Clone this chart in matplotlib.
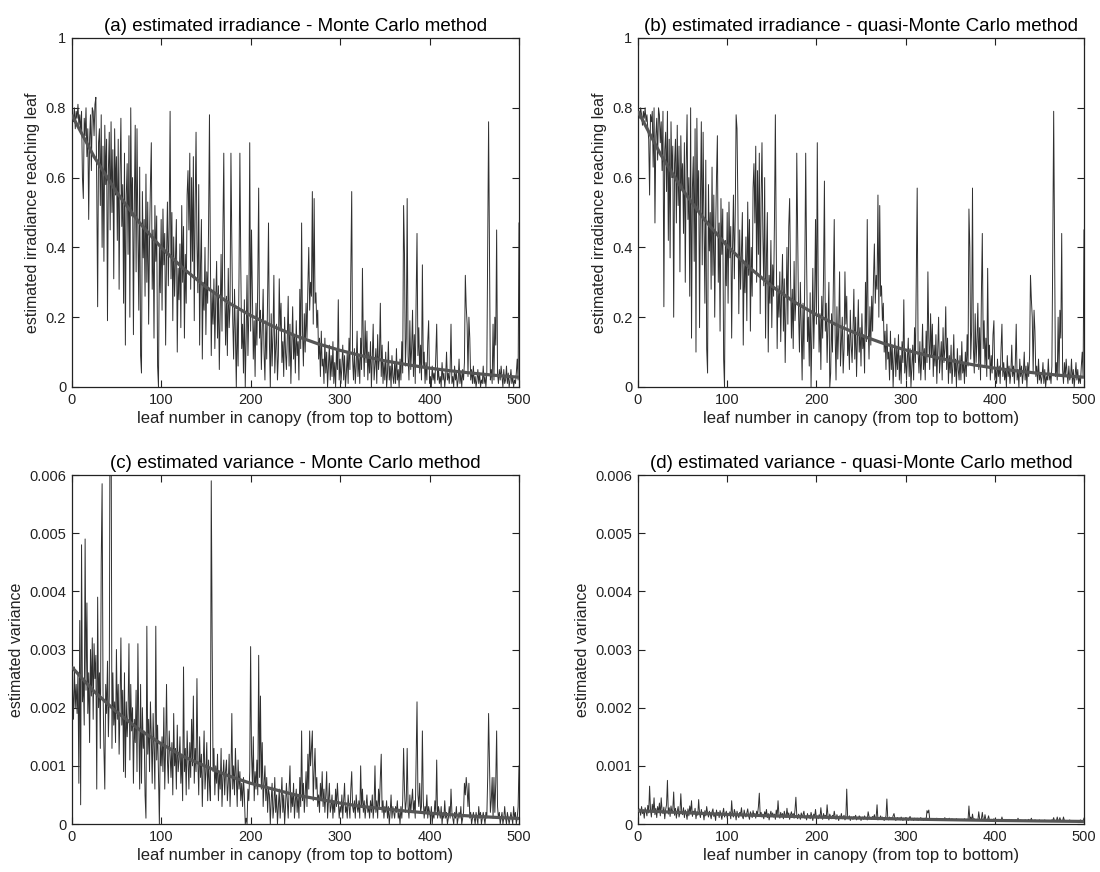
import numpy as np
import matplotlib
matplotlib.use("Agg")
import matplotlib.pyplot as plt

plt.rcParams['font.family'] = ['Liberation Sans', 'DejaVu Sans']

# Leaf index in the canopy (top to bottom)
leaves = np.arange(1, 501)

# (a) Monte Carlo irradiance estimate, in percent of incident light
irr_mc_pct = [
    78, 76, 80, 74, 79, 77, 81, 75, 78, 73,
    79, 60, 54, 77, 72, 80, 66, 74, 48, 71,
    78, 62, 80, 79, 72, 81, 83, 57, 23, 70,
    74, 52, 78, 40, 69, 36, 75, 58, 71, 19,
    62, 73, 45, 76, 50, 68, 31, 74, 55, 66,
    42, 71, 28, 61, 77, 46, 58, 24, 67, 12,
    55, 64, 38, 72, 20, 80, 49, 60, 15, 52,
    75, 33, 74, 44, 22, 63, 9, 4, 56, 37,
    48, 26, 61, 30, 53, 18, 42, 58, 70, 28,
    45, 14, 52, 36, 49, 6, 0, 40, 27, 48,
    22, 51, 35, 44, 12, 38, 53, 29, 47, 79,
    31, 50, 19, 43, 26, 37, 48, 10, 34, 25,
    41, 17, 52, 30, 46, 14, 38, 24, 55, 62,
    45, 67, 28, 60, 36, 66, 19, 52, 73, 41,
    27, 58, 12, 35, 48, 8, 30, 22, 40, 15,
    33, 24, 46, 78, 38, 9, 27, 18, 31, 11,
    25, 36, 14, 29, 5, 21, 38, 16, 44, 67,
    30, 12, 26, 9, 34, 17, 23, 67, 41, 19,
    8, 28, 15, 0, 22, 6, 31, 67, 35, 11,
    18, 4, 25, 0, 14, 32, 9, 21, 70, 16,
    45, 27, 8, 19, 3, 24, 12, 30, 57, 14,
    22, 5, 17, 28, 10, 2, 19, 8, 26, 47,
    13, 0, 21, 6, 15, 32, 4, 11, 18, 2,
    9, 31, 16, 24, 7, 13, 3, 20, 10, 5,
    14, 26, 6, 18, 1, 12, 23, 8, 15, 4,
    19, 9, 13, 2, 28, 11, 47, 16, 6, 21,
    10, 24, 14, 29, 40, 22, 30, 26, 56, 18,
    54, 24, 27, 17, 22, 8, 14, 3, 16, 6,
    8, 1, 14, 4, 10, 0, 6, 12, 2, 9,
    3, 13, 1, 7, 0, 11, 5, 25, 2, 8,
    1, 6, 12, 2, 9, 0, 4, 10, 1, 14,
    5, 33, 56, 8, 2, 11, 1, 6, 16, 3,
    9, 1, 14, 5, 34, 12, 3, 19, 7, 16,
    2, 10, 4, 13, 0, 8, 18, 2, 6, 11,
    1, 15, 5, 9, 24, 3, 12, 1, 7, 2,
    10, 0, 4, 13, 2, 6, 0, 9, 3, 1,
    7, 1, 11, 2, 5, 0, 8, 2, 13, 4,
    52, 38, 6, 14, 54, 9, 2, 19, 5, 11,
    22, 3, 15, 1, 25, 44, 9, 17, 4, 12,
    2, 35, 6, 10, 1, 7, 2, 13, 19, 1,
    3, 0, 6, 2, 4, 1, 9, 18, 2, 5,
    1, 3, 0, 7, 2, 4, 0, 3, 10, 2,
    4, 1, 5, 18, 1, 3, 0, 6, 2, 4,
    0, 2, 8, 1, 4, 0, 5, 2, 7, 32,
    23, 18, 3, 20, 14, 2, 5, 1, 6, 1,
    3, 0, 2, 5, 1, 4, 0, 2, 1, 6,
    1, 3, 0, 4, 38, 76, 40, 2, 5, 1,
    18, 2, 20, 12, 45, 4, 1, 5, 2, 6,
    3, 0, 5, 1, 2, 6, 1, 4, 0, 2,
    5, 1, 3, 0, 2, 1, 4, 8, 2, 47,
]

# (b) quasi-Monte Carlo irradiance estimate, in percent
irr_qmc_pct = [
    79, 77, 80, 78, 75, 79, 77, 80, 76, 78,
    74, 71, 55, 78, 76, 79, 63, 80, 47, 72,
    77, 65, 80, 78, 70, 76, 62, 79, 23, 68,
    73, 56, 79, 42, 71, 37, 76, 60, 69, 20,
    64, 71, 47, 75, 52, 69, 33, 72, 57, 64,
    44, 70, 30, 63, 78, 48, 60, 26, 80, 14,
    57, 66, 36, 74, 10, 77, 51, 62, 17, 54,
    76, 35, 73, 46, 24, 65, 11, 4, 58, 39,
    50, 28, 63, 32, 55, 20, 44, 60, 72, 30,
    47, 16, 54, 38, 51, 8, 0, 42, 29, 50,
    24, 53, 37, 46, 14, 40, 55, 31, 49, 78,
    74, 52, 21, 45, 28, 39, 50, 12, 36, 27,
    43, 19, 53, 32, 48, 16, 40, 26, 57, 64,
    47, 69, 30, 62, 38, 67, 21, 54, 70, 43,
    29, 60, 14, 37, 50, 10, 32, 24, 42, 17,
    35, 26, 48, 78, 40, 11, 29, 20, 33, 13,
    27, 38, 16, 31, 7, 23, 40, 18, 46, 54,
    32, 14, 28, 11, 36, 19, 25, 67, 43, 21,
    10, 30, 17, 2, 24, 8, 33, 67, 37, 13,
    20, 6, 27, 0, 16, 34, 11, 23, 48, 18,
    70, 29, 10, 21, 5, 26, 14, 32, 59, 16,
    24, 7, 19, 30, 0, 4, 21, 10, 28, 48,
    15, 2, 23, 8, 17, 33, 6, 13, 20, 4,
    11, 33, 18, 26, 9, 15, 5, 22, 12, 7,
    16, 28, 8, 20, 3, 14, 25, 10, 17, 6,
    21, 11, 15, 4, 30, 13, 48, 18, 8, 23,
    12, 26, 16, 31, 41, 24, 32, 28, 55, 20,
    52, 26, 29, 19, 24, 10, 16, 5, 18, 8,
    10, 2, 16, 5, 12, 0, 8, 14, 3, 11,
    5, 15, 2, 9, 1, 13, 7, 25, 4, 10,
    2, 8, 14, 3, 11, 0, 6, 12, 2, 17,
    7, 32, 57, 10, 4, 13, 2, 8, 18, 5,
    11, 2, 16, 7, 33, 14, 5, 21, 9, 18,
    3, 12, 6, 15, 1, 10, 20, 4, 8, 13,
    2, 17, 7, 11, 23, 5, 14, 1, 9, 4,
    12, 1, 6, 15, 3, 8, 0, 11, 5, 2,
    9, 2, 13, 4, 7, 1, 10, 3, 15, 6,
    51, 40, 8, 16, 57, 11, 4, 21, 7, 13,
    24, 5, 17, 2, 27, 44, 11, 19, 6, 14,
    3, 34, 8, 12, 2, 9, 4, 15, 19, 2,
    5, 1, 8, 3, 6, 1, 11, 18, 3, 7,
    2, 5, 0, 9, 3, 6, 1, 4, 12, 3,
    6, 1, 7, 18, 2, 5, 0, 8, 3, 6,
    1, 4, 10, 2, 6, 0, 7, 3, 9, 32,
    25, 20, 4, 22, 16, 3, 6, 1, 8, 2,
    4, 1, 3, 7, 1, 5, 0, 3, 2, 8,
    2, 4, 1, 6, 40, 79, 42, 3, 7, 2,
    20, 3, 22, 14, 44, 5, 1, 7, 3, 8,
    4, 1, 6, 2, 3, 8, 1, 5, 0, 3,
    7, 2, 5, 1, 3, 1, 6, 10, 3, 45,
]

# (c) Monte Carlo variance estimate, in units of 1e-5
var_mc_e5 = [
    230, 180, 270, 200, 240, 190, 260, 70, 350, 33,
    480, 210, 250, 170, 490, 230, 380, 190, 260, 140,
    300, 220, 320, 180, 310, 250, 290, 60, 390, 200,
    260, 130, 450, 585, 230, 130, 60, 240, 190, 280,
    150, 220, 800, 750, 130, 260, 170, 210, 140, 300,
    180, 240, 120, 200, 320, 170, 230, 90, 260, 80,
    210, 150, 190, 310, 110, 240, 160, 200, 70, 180,
    140, 230, 90, 310, 170, 60, 240, 70, 200, 130,
    160, 50, 10, 340, 120, 180, 90, 210, 150, 70,
    190, 130, 60, 340, 110, 170, 80, 0, 140, 100,
    150, 90, 200, 60, 130, 240, 110, 70, 160, 120,
    80, 140, 50, 190, 100, 130, 60, 170, 90, 110,
    150, 70, 120, 40, 270, 90, 130, 50, 160, 110,
    60, 140, 80, 180, 100, 220, 70, 130, 90, 250,
    110, 50, 150, 80, 120, 30, 100, 160, 60, 90,
    140, 40, 110, 70, 40, 590, 320, 90, 130, 50,
    100, 70, 120, 40, 90, 60, 130, 30, 80, 110,
    50, 90, 110, 40, 70, 120, 30, 80, 190, 60,
    100, 50, 130, 80, 30, 110, 60, 90, 40, 70,
    30, 80, 50, 0, 10, 0, 60, 40, 90, 305,
    120, 70, 150, 40, 90, 60, 110, 50, 290, 80,
    220, 60, 140, 30, 70, 100, 40, 80, 20, 60,
    50, 0, 40, 70, 10, 30, 80, 20, 50, 0,
    30, 60, 10, 40, 80, 20, 50, 0, 30, 70,
    40, 10, 60, 100, 20, 50, 30, 70, 10, 40,
    60, 20, 50, 10, 80, 30, 160, 40, 70, 20,
    50, 90, 30, 120, 60, 160, 100, 130, 160, 40,
    90, 130, 60, 80, 30, 50, 20, 70, 40, 90,
    30, 60, 20, 50, 90, 10, 40, 70, 20, 30,
    50, 10, 40, 20, 60, 30, 70, 40, 10, 30,
    20, 50, 10, 40, 70, 20, 30, 10, 50, 30,
    10, 60, 90, 30, 20, 40, 10, 50, 30, 20,
    40, 10, 100, 30, 60, 20, 40, 10, 30, 50,
    20, 30, 10, 40, 20, 50, 10, 30, 100, 20,
    40, 10, 60, 30, 80, 120, 20, 40, 10, 30,
    20, 40, 10, 30, 0, 20, 50, 10, 30, 20,
    10, 30, 20, 40, 10, 20, 0, 30, 10, 40,
    130, 60, 20, 40, 130, 30, 10, 50, 20, 40,
    60, 20, 40, 10, 110, 210, 50, 30, 70, 20,
    30, 160, 40, 10, 30, 20, 50, 10, 30, 20,
    10, 30, 0, 20, 10, 40, 20, 110, 10, 30,
    20, 10, 30, 0, 20, 10, 40, 10, 20, 0,
    10, 30, 10, 60, 20, 10, 0, 20, 10, 30,
    0, 10, 20, 10, 30, 0, 10, 20, 70, 50,
    80, 60, 30, 70, 10, 20, 0, 10, 20, 10,
    0, 20, 10, 0, 30, 10, 20, 0, 10, 20,
    10, 0, 20, 10, 80, 190, 100, 20, 40, 80,
    10, 80, 20, 70, 160, 30, 10, 20, 0, 10,
    20, 0, 10, 30, 10, 0, 20, 10, 0, 10,
    20, 10, 0, 30, 10, 20, 0, 10, 30, 100,
]

# (d) quasi-Monte Carlo variance estimate, in units of 1e-5
var_qmc_e5 = [
    20, 26, 15, 30, 18, 24, 10, 28, 22, 14,
    32, 19, 65, 25, 12, 34, 21, 45, 16, 27,
    11, 30, 20, 36, 14, 45, 23, 18, 29, 9,
    25, 33, 75, 17, 28, 13, 31, 20, 24, 55,
    15, 27, 10, 22, 30, 12, 19, 52, 21, 16,
    28, 11, 24, 18, 8, 26, 14, 31, 20, 40,
    13, 22, 17, 27, 9, 21, 15, 42, 18, 11,
    25, 16, 20, 7, 23, 14, 30, 19, 12, 22,
    17, 9, 21, 26, 13, 18, 6, 24, 15, 20,
    11, 23, 16, 8, 19, 27, 12, 17, 22, 10,
    18, 14, 21, 9, 40, 16, 12, 25, 19, 7,
    22, 15, 11, 20, 17, 28, 13, 9, 24, 16,
    12, 19, 26, 14, 8, 21, 17, 11, 23, 15,
    18, 10, 22, 16, 30, 53, 14, 20, 12, 17,
    9, 21, 15, 25, 11, 18, 7, 16, 22, 13,
    19, 12, 17, 8, 24, 14, 40, 16, 10, 20,
    13, 18, 9, 22, 15, 11, 27, 14, 19, 8,
    16, 21, 12, 18, 10, 24, 46, 15, 9, 17,
    14, 8, 19, 12, 16, 22, 10, 13, 7, 18,
    11, 15, 9, 20, 13, 6, 17, 12, 25, 10,
    14, 9, 16, 11, 28, 13, 8, 18, 12, 15,
    10, 33, 14, 7, 17, 12, 9, 15, 11, 22,
    13, 8, 16, 11, 6, 14, 10, 18, 9, 12,
    15, 7, 11, 60, 13, 9, 14, 6, 12, 10,
    8, 13, 10, 15, 7, 11, 9, 14, 12, 6,
    10, 12, 8, 14, 9, 11, 7, 21, 13, 9,
    11, 8, 13, 10, 16, 9, 12, 33, 7, 11,
    10, 14, 8, 12, 9, 6, 11, 13, 43, 10,
    7, 12, 9, 11, 8, 14, 18, 10, 6, 9,
    11, 8, 10, 7, 12, 9, 6, 10, 8, 11,
    7, 9, 6, 10, 13, 8, 7, 9, 6, 10,
    8, 7, 10, 6, 9, 8, 11, 7, 9, 6,
    8, 10, 7, 23, 19, 24, 9, 7, 8, 6,
    9, 7, 8, 6, 10, 7, 9, 8, 6, 7,
    6, 8, 7, 11, 6, 9, 7, 8, 10, 6,
    7, 9, 6, 8, 7, 6, 9, 7, 8, 6,
    7, 6, 8, 7, 6, 9, 7, 6, 8, 7,
    31, 8, 12, 6, 17, 7, 9, 6, 8, 7,
    6, 21, 8, 7, 9, 20, 7, 6, 16, 7,
    6, 8, 14, 7, 6, 8, 7, 6, 9, 7,
    6, 7, 5, 8, 6, 7, 5, 12, 6, 7,
    5, 6, 7, 5, 6, 8, 5, 6, 7, 5,
    6, 5, 7, 6, 5, 10, 6, 5, 7, 6,
    5, 6, 5, 7, 6, 5, 6, 8, 5, 6,
    10, 5, 6, 5, 7, 6, 5, 6, 5, 7,
    5, 6, 5, 6, 5, 7, 5, 6, 5, 6,
    5, 6, 5, 7, 6, 11, 5, 6, 5, 12,
    5, 6, 11, 5, 6, 5, 12, 6, 5, 6,
    5, 6, 5, 7, 5, 6, 5, 6, 5, 6,
    5, 6, 5, 6, 5, 7, 5, 6, 5, 10,
]

# Fitted decay curves, sampled every 25 leaves
fit_leaves = [0, 25, 50, 75, 100, 125, 150, 175, 200, 225, 250,
              275, 300, 325, 350, 375, 400, 425, 450, 475, 500]
fit_irr_mc_pct = [78.0, 66.0, 55.9, 47.3, 40.0, 33.9, 28.7, 24.2, 20.5, 17.4, 14.7,
                  12.4, 10.5, 8.9, 7.5, 6.4, 5.4, 4.6, 3.9, 3.3, 2.8]
fit_irr_qmc_pct = [79.0, 66.8, 56.5, 47.8, 40.4, 34.2, 28.9, 24.4, 20.7, 17.5, 14.8,
                   12.5, 10.6, 9.0, 7.6, 6.4, 5.4, 4.6, 3.9, 3.3, 2.8]
fit_var_mc_e5 = [270, 228, 193, 163, 138, 116, 99, 83, 70, 60, 50,
                 43, 36, 30, 26, 22, 18.6, 15.8, 13.3, 11.3, 9.5]
fit_var_qmc_e5 = [23, 21.2, 19.5, 18.0, 16.5, 15.2, 14.0, 12.9, 11.9, 11.0, 10.1,
                  9.3, 8.5, 7.9, 7.3, 6.7, 6.1, 5.7, 5.2, 4.8, 4.4]

titles = ["(a) estimated irradiance - Monte Carlo method",
          "(b) estimated irradiance - quasi-Monte Carlo method",
          "(c) estimated variance - Monte Carlo method",
          "(d) estimated variance - quasi-Monte Carlo method"]
xlabel = "leaf number in canopy (from top to bottom)"
ylabel_irr = "estimated irradiance reaching leaf"
ylabel_var = "estimated variance"
x_ticks = [0, 100, 200, 300, 400, 500]
irr_ticks = [0, 0.2, 0.4, 0.6, 0.8, 1]
irr_tick_labels = ["0", "0.2", "0.4", "0.6", "0.8", "1"]
var_ticks = [0, 0.001, 0.002, 0.003, 0.004, 0.005, 0.006]
var_tick_labels = ["0", "0.001", "0.002", "0.003", "0.004", "0.005", "0.006"]

W, H = 1100, 872
fig = plt.figure(figsize=(W / 100, H / 100), dpi=100)

# axes boxes in pixel coordinates: left, top, right, bottom
boxes = [(71.7, 38, 519, 387), (638, 38, 1084, 387),
         (71.7, 475, 519, 824), (638, 475, 1084, 824)]

series = [
    (np.array(irr_mc_pct) / 100.0, np.array(fit_irr_mc_pct) / 100.0, 1.0,
     irr_ticks, irr_tick_labels, ylabel_irr),
    (np.array(irr_qmc_pct) / 100.0, np.array(fit_irr_qmc_pct) / 100.0, 1.0,
     irr_ticks, irr_tick_labels, ylabel_irr),
    (np.array(var_mc_e5) * 1e-5, np.array(fit_var_mc_e5) * 1e-5, 0.006,
     var_ticks, var_tick_labels, ylabel_var),
    (np.array(var_qmc_e5) * 1e-5, np.array(fit_var_qmc_e5) * 1e-5, 0.006,
     var_ticks, var_tick_labels, ylabel_var),
]

for (l, t, r, b), title, (vals, fit, ymax, yt, ytl, ylab) in zip(boxes, titles, series):
    ax = fig.add_axes([l / W, 1 - b / H, (r - l) / W, (b - t) / H])
    ax.plot(leaves, vals, color="#303030", lw=0.7, zorder=2)
    ax.plot(fit_leaves, fit, color="#555555", lw=2.3, zorder=3,
            solid_capstyle="butt")
    ax.set_xlim(0, 500)
    ax.set_ylim(0, ymax)
    ax.set_xticks(x_ticks)
    ax.set_xticklabels([str(v) for v in x_ticks])
    ax.set_yticks(yt)
    ax.set_yticklabels(ytl)
    ax.tick_params(direction="in", length=5, width=0.8, top=True, right=True,
                   labelsize=10.5, pad=4, colors="#222222")
    for s in ax.spines.values():
        s.set_linewidth(0.9)
        s.set_color("#222222")
    ax.set_title(title, fontsize=13.5, pad=5)
    ax.set_xlabel(xlabel, fontsize=12, labelpad=3, color="#222222")
    ax.set_ylabel(ylab, fontsize=11.5, labelpad=4, color="#222222")

fig.savefig("out.png", dpi=100)
